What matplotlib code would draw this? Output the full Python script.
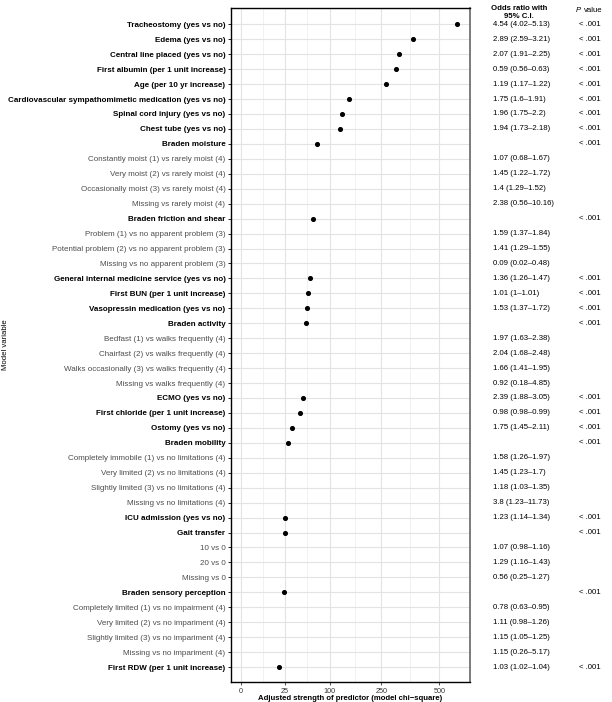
import numpy as np
import matplotlib
matplotlib.use("Agg")
import matplotlib.pyplot as plt
from matplotlib.transforms import blended_transform_factory, offset_copy

plt.rcParams['font.family'] = ['Liberation Sans', 'DejaVu Sans']

# rows top to bottom; main = bold variable header, sub = grey level row
labels = [
    "Tracheostomy (yes vs no)", "Edema (yes vs no)", "Central line placed (yes vs no)",
    "First albumin (per 1 unit increase)", "Age (per 10 yr increase)",
    "Cardiovascular sympathomimetic medication (yes vs no)", "Spinal cord injury (yes vs no)",
    "Chest tube (yes vs no)", "Braden moisture",
    "Constantly moist (1) vs rarely moist (4)", "Very moist (2) vs rarely moist (4)",
    "Occasionally moist (3) vs rarely moist (4)", "Missing vs rarely moist (4)",
    "Braden friction and shear",
    "Problem (1) vs no apparent problem (3)", "Potential problem (2) vs no apparent problem (3)",
    "Missing vs no apparent problem (3)",
    "General internal medicine service (yes vs no)", "First BUN (per 1 unit increase)",
    "Vasopressin medication (yes vs no)", "Braden activity",
    "Bedfast (1) vs walks frequently (4)", "Chairfast (2) vs walks frequently (4)",
    "Walks occasionally (3) vs walks frequently (4)", "Missing vs walks frequently (4)",
    "ECMO (yes vs no)", "First chloride (per 1 unit increase)", "Ostomy (yes vs no)",
    "Braden mobility",
    "Completely immobile (1) vs no limitations (4)", "Very limited (2) vs no limitations (4)",
    "Slightly limited (3) vs no limitations (4)", "Missing vs no limitations (4)",
    "ICU admission (yes vs no)", "Gait transfer",
    "10 vs 0", "20 vs 0", "Missing vs 0",
    "Braden sensory perception",
    "Completely limited (1) vs no impairment (4)", "Very limited (2) vs no impariment (4)",
    "Slightly limited (3) vs no impariment (4)", "Missing vs no impariment (4)",
    "First RDW (per 1 unit increase)",
]
is_main = [1, 1, 1, 1, 1, 1, 1, 1, 1, 0, 0, 0, 0, 1, 0, 0, 0, 1, 1, 1, 1, 0, 0, 0, 0,
           1, 1, 1, 1, 0, 0, 0, 0, 1, 1, 0, 0, 0, 1, 0, 0, 0, 0, 1]
nan = np.nan
chi_square = [590, 377, 317, 304, 266, 148, 131, 125, 73, nan, nan, nan, nan, 66,
              nan, nan, nan, 61, 57, 55, 54, nan, nan, nan, nan, 49, 44.5, 33, 28.7,
              nan, nan, nan, nan, 24.8, 24.8, nan, nan, nan, 23.7, nan, nan, nan, nan, 18.6]
odds_ratio = [
    "4.54 (4.02\u20135.13)", "2.89 (2.59\u20133.21)", "2.07 (1.91\u20132.25)", "0.59 (0.56\u20130.63)",
    "1.19 (1.17\u20131.22)", "1.75 (1.6\u20131.91)", "1.96 (1.75\u20132.2)", "1.94 (1.73\u20132.18)", "",
    "1.07 (0.68\u20131.67)", "1.45 (1.22\u20131.72)", "1.4 (1.29\u20131.52)", "2.38 (0.56\u201310.16)", "",
    "1.59 (1.37\u20131.84)", "1.41 (1.29\u20131.55)", "0.09 (0.02\u20130.48)",
    "1.36 (1.26\u20131.47)", "1.01 (1\u20131.01)", "1.53 (1.37\u20131.72)", "",
    "1.97 (1.63\u20132.38)", "2.04 (1.68\u20132.48)", "1.66 (1.41\u20131.95)", "0.92 (0.18\u20134.85)",
    "2.39 (1.88\u20133.05)", "0.98 (0.98\u20130.99)", "1.75 (1.45\u20132.11)", "",
    "1.58 (1.26\u20131.97)", "1.45 (1.23\u20131.7)", "1.18 (1.03\u20131.35)", "3.8 (1.23\u201311.73)",
    "1.23 (1.14\u20131.34)", "",
    "1.07 (0.98\u20131.16)", "1.29 (1.16\u20131.43)", "0.56 (0.25\u20131.27)", "",
    "0.78 (0.63\u20130.95)", "1.11 (0.98\u20131.26)", "1.15 (1.05\u20131.25)", "1.15 (0.26\u20135.17)",
    "1.03 (1.02\u20131.04)",
]
p_value = ["< .001" if m else "" for m in is_main]

x_ticks = [0, 25, 100, 250, 500]


def fwd(x):
    return np.sign(x) * np.sqrt(np.abs(x))


def inv(x):
    return np.sign(x) * x ** 2


fig = plt.figure(figsize=(6.12, 7.02), dpi=100)
ax = fig.add_axes([231 / 612, 1 - 682 / 702, (470 - 231) / 612, (682 - 8.3) / 702])

rows = np.arange(len(labels))
ax.set_xscale('function', functions=(fwd, inv))
ax.set_xlim(inv(-1.09), inv(25.8))
ax.set_ylim(len(labels) - 1 + 1.0, -1.07)

# grid: major at ticks, minor halfway in sqrt space
minor = [inv((fwd(a) + fwd(b)) / 2) for a, b in zip(x_ticks[:-1], x_ticks[1:])]
ax.set_xticks(x_ticks)
ax.set_xticks(minor, minor=True)
ax.set_xticklabels([str(t) for t in x_ticks])
ax.set_yticks(rows)
ax.set_yticklabels(labels)
ax.grid(True, which='major', color='#e3e3e3', lw=0.8)
ax.grid(True, which='minor', axis='x', color='#efefef', lw=0.6)
ax.set_axisbelow(True)

for lab, m in zip(ax.get_yticklabels(), is_main):
    if m:
        lab.set_fontweight('bold')
        lab.set_color('black')
    else:
        lab.set_color('#4d4d4d')

ax.tick_params(axis='y', labelsize=5.8, length=2.5, width=0.6, pad=1.5)
ax.tick_params(axis='x', labelsize=5.2, length=2.5, width=0.6, pad=1.5, colors='#333333')
ax.tick_params(axis='x', which='minor', length=0)

ax.scatter(chi_square, rows, s=7, color='black', zorder=3)

for side in ['left', 'bottom', 'top']:
    ax.spines[side].set_color('black')
    ax.spines[side].set_linewidth(1.0)
ax.spines['right'].set_color('#666666')
ax.spines['right'].set_linewidth(1.2)

ax.set_xlabel("Adjusted strength of predictor (model chi\u2212square)", fontsize=5.6,
              fontweight='bold', labelpad=0.5)
fig.text(6 / 612, 1 - 345 / 702, "Model variable", rotation=90, fontsize=5.6,
         ha='center', va='center')

trans = blended_transform_factory(fig.transFigure, ax.transData)
for i in rows:
    ax.text(492.7 / 612, i, odds_ratio[i], transform=trans, fontsize=5.6,
            ha='left', va='center', clip_on=False)
    ax.text(579 / 612, i, p_value[i], transform=trans, fontsize=5.6,
            ha='left', va='center', clip_on=False)

fig.text(519 / 612, 1 - 8 / 702, "Odds ratio with", fontsize=5.6, fontweight='bold',
         ha='center', va='center')
fig.text(519 / 612, 1 - 16.5 / 702, "95% C.I.", fontsize=5.6, fontweight='bold',
         ha='center', va='center')
fig.text(576 / 612, 1 - 11 / 702, "P", fontsize=5.6, style='italic', ha='left', va='center')
fig.text(576 / 612, 1 - 11 / 702, "value", fontsize=5.6, ha='left', va='center',
         transform=offset_copy(fig.transFigure, fig=fig, x=7.5, y=0, units='dots'))

fig.savefig("out.png", dpi=100)
